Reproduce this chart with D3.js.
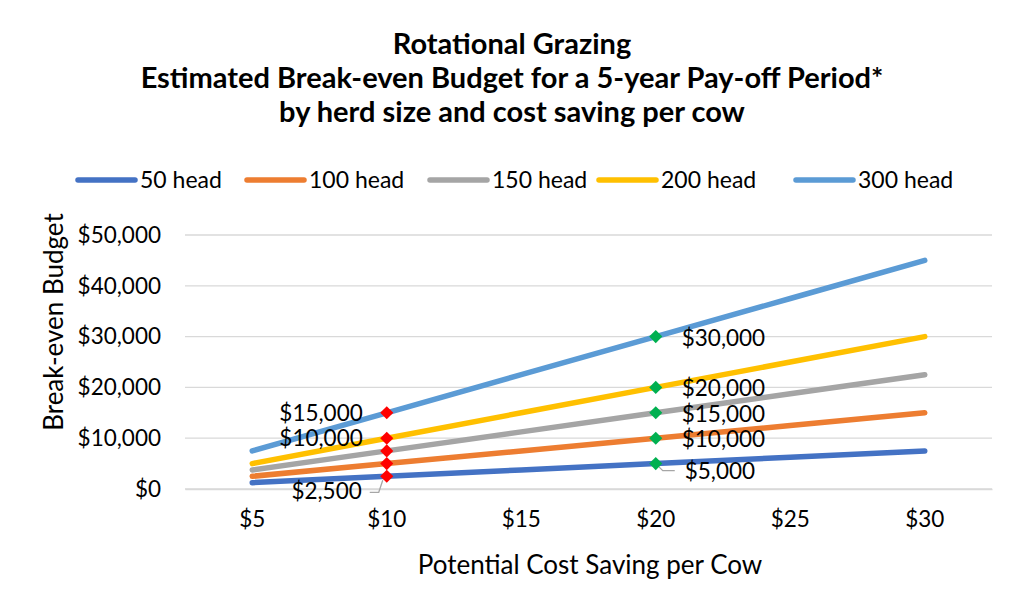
<!DOCTYPE html>
<html>
<head>
<meta charset="utf-8">
<script src="https://cdn.jsdelivr.net/npm/d3@7/dist/d3.min.js"></script>
<style>
  html, body { margin: 0; padding: 0; background: #fff; }
  svg { display: block; }
  text { font-family: Lato, "Open Sans", sans-serif; fill: #000; }
</style>
</head>
<body>
<svg id="chart" width="1024" height="615"></svg>
<script>
// ---- data ----
const categories = [5, 10, 15, 20, 25, 30];
const seriesNames = ["50 head", "100 head", "150 head", "200 head", "300 head"];
const seriesColors = ["#4472C4", "#ED7D31", "#A5A5A5", "#FFC000", "#5B9BD5"];
const head50  = [1250, 2500, 3750, 5000, 6250, 7500];
const head100 = [2500, 5000, 7500, 10000, 12500, 15000];
const head150 = [3750, 7500, 11250, 15000, 18750, 22500];
const head200 = [5000, 10000, 15000, 20000, 25000, 30000];
const head300 = [7500, 15000, 22500, 30000, 37500, 45000];
const yTicks = [0, 10000, 20000, 30000, 40000, 50000];
const titleLines = ["Rotational Grazing",
  "Estimated Break-even Budget for a 5-year Pay-off Period*",
  "by herd size and cost saving per cow"];
const xTitle = "Potential Cost Saving per Cow";
const yTitle = "Break-even Budget";
// highlighted points: red at $10, green at $20
const redCategory = 10;
const greenCategory = 20;
// data labels: [series index, category]
const redLabels = [[4, 10], [3, 10], [0, 10]];
const greenLabels = [[4, 20], [3, 20], [2, 20], [1, 20], [0, 20]];

const allSeries = [head50, head100, head150, head200, head300];

// ---- layout ----
const svg = d3.select("#chart");
const plot = { left: 185, right: 992, top: 235, bottom: 489 };

const x = d3.scaleBand().domain(categories).range([plot.left, plot.right]);
const xc = v => x(v) + x.bandwidth() / 2;
const y = d3.scaleLinear().domain([0, 50000]).range([plot.bottom, plot.top]);
const money = d3.format("$,");

// title
svg.append("g").selectAll("text").data(titleLines).join("text")
  .attr("x", 512).attr("y", (d, i) => 54 + i * 34)
  .attr("text-anchor", "middle")
  .style("font-size", "29px").style("font-weight", "bold")
  .text(d => d);

// legend
const legendX = [78, 247, 430, 599, 796];
const lg = svg.append("g").selectAll("g").data(seriesNames).join("g")
  .attr("transform", (d, i) => `translate(${legendX[i]},180)`);
lg.append("line").attr("x1", 0).attr("x2", 57).attr("y1", 0).attr("y2", 0)
  .attr("stroke", (d, i) => seriesColors[i]).attr("stroke-width", 5.5)
  .attr("stroke-linecap", "round");
lg.append("text").attr("x", 62).attr("y", 8)
  .style("font-size", "23px").text(d => d);

// gridlines
svg.append("g").selectAll("line").data(yTicks).join("line")
  .attr("x1", plot.left).attr("x2", plot.right)
  .attr("y1", d => y(d)).attr("y2", d => y(d))
  .attr("stroke", "#d9d9d9").attr("stroke-width", 1.3);

// y axis labels
const yAxis = d3.axisLeft(y).tickValues(yTicks).tickFormat(money).tickSize(0).tickPadding(24);
svg.append("g").attr("transform", `translate(${plot.left},0)`).call(yAxis)
  .call(g => g.select(".domain").remove())
  .selectAll("text").style("font-size", "22.5px").style("font-family", "Lato, sans-serif").attr("fill", "#000");

// x axis
const xAxis = d3.axisBottom(x).tickFormat(d => "$" + d).tickSize(0).tickPadding(22);
svg.append("g").attr("transform", `translate(0,${plot.bottom})`).call(xAxis)
  .call(g => g.select(".domain").attr("stroke", "#d9d9d9").attr("stroke-width", 1.3))
  .selectAll("text").style("font-size", "22.5px").style("font-family", "Lato, sans-serif").attr("fill", "#000");

// axis titles
svg.append("text").attr("x", 590).attr("y", 574).attr("text-anchor", "middle")
  .style("font-size", "26px").text(xTitle);
svg.append("text").attr("transform", "translate(63,322) rotate(-90)")
  .attr("text-anchor", "middle").style("font-size", "26px").text(yTitle);

// lines
const line = d3.line().x((d, i) => xc(categories[i])).y(d => y(d));
svg.append("g").selectAll("path").data(allSeries).join("path")
  .attr("d", line).attr("fill", "none")
  .attr("stroke", (d, i) => seriesColors[i]).attr("stroke-width", 5.5)
  .attr("stroke-linecap", "round");

// markers
const diamond = d3.symbol().type(d3.symbolDiamond2).size(110);
function markers(cat, color) {
  const ci = categories.indexOf(cat);
  svg.append("g").selectAll("path").data(allSeries).join("path")
    .attr("d", diamond)
    .attr("transform", d => `translate(${xc(cat)},${y(d[ci])})`)
    .attr("fill", color);
}

// leader lines
const leaders = svg.append("g").attr("stroke", "#a6a6a6").attr("stroke-width", 1.3).attr("fill", "none");
{
  const ci = categories.indexOf(redCategory);
  const px = xc(redCategory), py = y(head50[ci]);
  leaders.append("path").attr("d", `M${px - 4},${py + 4} L${px - 8},${py + 16} L${px - 17},${py + 16}`);
  const cj = categories.indexOf(greenCategory);
  const qx = xc(greenCategory), qy = y(head50[cj]);
  leaders.append("path").attr("d", `M${qx + 3},${qy + 3} L${qx + 7},${qy + 7} L${qx + 19},${qy + 7}`);
}

markers(redCategory, "#FF0000");
markers(greenCategory, "#00B050");

// data labels
const lbl = svg.append("g").style("font-size", "22.5px");
redLabels.forEach(([si, cat]) => {
  const ci = categories.indexOf(cat);
  const v = allSeries[si][ci];
  const px = xc(cat), py = y(v);
  const t = lbl.append("text").attr("text-anchor", "end").text(money(v));
  if (si === 0) t.attr("x", px - 25).attr("y", py + 23);
  else t.attr("x", px - 24).attr("y", py + 8);
});
greenLabels.forEach(([si, cat]) => {
  const ci = categories.indexOf(cat);
  const v = allSeries[si][ci];
  const px = xc(cat), py = y(v);
  const t = lbl.append("text").text(money(v));
  if (si === 0) t.attr("x", px + 29).attr("y", py + 15);
  else t.attr("x", px + 26).attr("y", py + 9);
});
</script>
</body>
</html>
